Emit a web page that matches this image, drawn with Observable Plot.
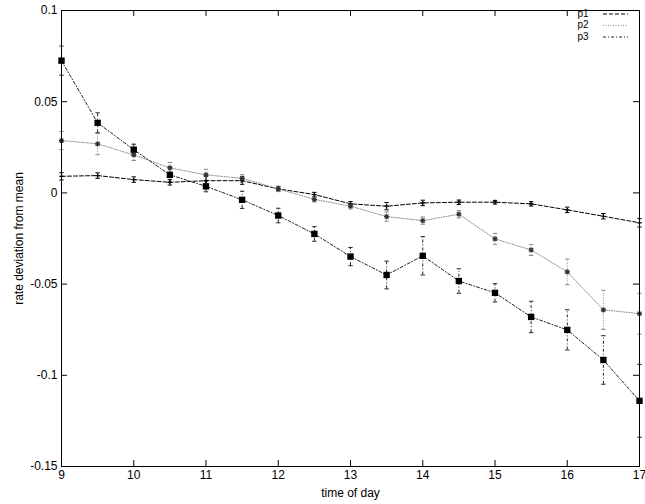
<!DOCTYPE html>
<html><head><meta charset="utf-8">
<script src="https://cdn.jsdelivr.net/npm/d3@7"></script>
<script src="https://cdn.jsdelivr.net/npm/@observablehq/plot@0.6"></script>
<style>
html,body{margin:0;padding:0;background:#fff;}
#chart svg{font-family:"Liberation Sans",Arial,sans-serif;}
</style>
</head><body><div id="chart"></div>
<script>
const hours = [9,9.5,10,10.5,11,11.5,12,12.5,13,13.5,14,14.5,15,15.5,16,16.5,17];
const p1 = [0.0091,0.0095,0.0073,0.0058,0.0067,0.0067,0.0022,-0.0009,-0.0060,-0.0073,-0.0055,-0.0051,-0.0051,-0.0060,-0.0093,-0.0128,-0.0164];
const p1err = [0.0020,0.0015,0.0015,0.0015,0.0025,0.0020,0.0012,0.0012,0.0012,0.0020,0.0015,0.0012,0.0010,0.0012,0.0015,0.0015,0.0023];
const p2 = [0.0287,0.0269,0.0208,0.0137,0.0099,0.0080,0.0022,-0.0035,-0.0073,-0.0130,-0.0152,-0.0117,-0.0252,-0.0313,-0.0433,-0.0641,-0.0662];
const p2err = [0.0050,0.0060,0.0030,0.0030,0.0030,0.0020,0.0015,0.0015,0.0015,0.0025,0.0020,0.0020,0.0030,0.0030,0.0070,0.0107,0.0112];
const p3 = [0.0725,0.0384,0.0237,0.0099,0.0036,-0.0038,-0.0124,-0.0225,-0.0349,-0.0450,-0.0345,-0.0483,-0.0548,-0.0680,-0.0751,-0.0916,-0.1140];
const p3err = [0.0080,0.0055,0.0030,0.0040,0.0030,0.0047,0.0040,0.0040,0.0050,0.0076,0.0105,0.0067,0.0050,0.0086,0.0110,0.0133,0.0200];
const seriesNames = ["p1","p2","p3"];
const xTicks = [9,10,11,12,13,14,15,16,17];
const yTicks = [-0.15,-0.1,-0.05,0,0.05,0.1];
const yTickLabels = ["-0.15","-0.1","-0.05","0","0.05","0.1"];

const W = 645, H = 504, mL = 61, mR = 6, mT = 10, mB = 38;
const pw = W - mL - mR, ph = H - mT - mB;

const styles = {
  p1: {stroke: "#000", dash: "4,2", sw: 1},
  p2: {stroke: "#8a8a8a", dash: "1,1.5", sw: 1},
  p3: {stroke: "#222", dash: "3,2,1,2", sw: 1}
};

function rows(name, vals, errs) {
  return hours.map((h, i) => ({series: name, h, v: vals[i], lo: vals[i] - errs[i], hi: vals[i] + errs[i]}));
}
const data = {p1: rows("p1", p1, p1err), p2: rows("p2", p2, p2err), p3: rows("p3", p3, p3err)};

const cap = {draw(ctx, size) { const w = 2.2; ctx.moveTo(-w, 0); ctx.lineTo(w, 0); }};
const star = {draw(ctx, size) { const r = 2.6;
  ctx.moveTo(-r,0); ctx.lineTo(r,0); ctx.moveTo(0,-r); ctx.lineTo(0,r);
  ctx.moveTo(-r*0.75,-r*0.75); ctx.lineTo(r*0.75,r*0.75); ctx.moveTo(-r*0.75,r*0.75); ctx.lineTo(r*0.75,-r*0.75); }};
const plus = {draw(ctx, size) { const r = 2.2; ctx.moveTo(-r,0); ctx.lineTo(r,0); ctx.moveTo(0,-r); ctx.lineTo(0,r); }};

const marks = [];
for (const name of seriesNames) {
  const s = styles[name], d = data[name];
  marks.push(Plot.ruleX(d, {x: "h", y1: "lo", y2: "hi", stroke: s.stroke, strokeWidth: 1, strokeDasharray: s.dash}));
  marks.push(Plot.dot(d, {x: "h", y: "lo", symbol: cap, stroke: s.stroke, strokeWidth: 1, fill: "none"}));
  marks.push(Plot.dot(d, {x: "h", y: "hi", symbol: cap, stroke: s.stroke, strokeWidth: 1, fill: "none"}));
  marks.push(Plot.line(d, {x: "h", y: "v", stroke: s.stroke, strokeWidth: s.sw, strokeDasharray: s.dash}));
}
marks.push(Plot.dot(data.p1, {x: "h", y: "v", symbol: plus, stroke: "#000", strokeWidth: 1.2, fill: "none"}));
marks.push(Plot.dot(data.p2, {x: "h", y: "v", symbol: star, stroke: "#333", strokeWidth: 1.2, fill: "none"}));
marks.push(Plot.dot(data.p3, {x: "h", y: "v", symbol: "square", r: 3.6, fill: "#000", stroke: "none"}));

// inward ticks on all four sides
marks.push(Plot.tickY(yTicks, {y: d => d, insetRight: pw - 6, stroke: "#000"}));
marks.push(Plot.tickY(yTicks, {y: d => d, insetLeft: pw - 6, stroke: "#000"}));
marks.push(Plot.tickX(xTicks, {x: d => d, insetTop: ph - 6, stroke: "#000"}));
marks.push(Plot.tickX(xTicks, {x: d => d, insetBottom: ph - 6, stroke: "#000"}));
marks.push(Plot.frame({stroke: "#000", strokeWidth: 1}));

const chart = Plot.plot({
  width: W, height: H,
  marginLeft: mL, marginRight: mR, marginTop: mT, marginBottom: mB,
  style: {fontFamily: "'Liberation Sans', Arial, sans-serif", fontSize: "12px", background: "#fff", color: "#000"},
  x: {domain: [9, 17], ticks: xTicks, tickSize: 0, tickPadding: 4, tickFormat: d => String(d),
      label: "time of day", labelAnchor: "center", labelArrow: "none", labelOffset: 30},
  y: {domain: [-0.15, 0.1], ticks: yTicks, tickSize: 0, tickPadding: 4,
      tickFormat: d => yTickLabels[yTicks.findIndex(t => Math.abs(t - d) < 1e-9)],
      label: "rate deviation from mean", labelAnchor: "center", labelArrow: "none", labelOffset: 47},
  marks
});
document.getElementById("chart").appendChild(chart);

// legend (top-right, inside frame)
const svg = d3.select(chart);
const lg = svg.append("g").attr("font-family", "'Liberation Sans', Arial, sans-serif").attr("font-size", "10px");
seriesNames.forEach((name, i) => {
  const y = 13 + i * 11.5;
  const s = styles[name];
  lg.append("text").attr("x", 583).attr("y", y).attr("dy", "0.35em").text(name);
  lg.append("line").attr("x1", 603).attr("x2", 628).attr("y1", y + 1).attr("y2", y + 1)
    .attr("stroke", s.stroke).attr("stroke-dasharray", s.dash).attr("stroke-width", 1);
});
</script>
</body></html>
